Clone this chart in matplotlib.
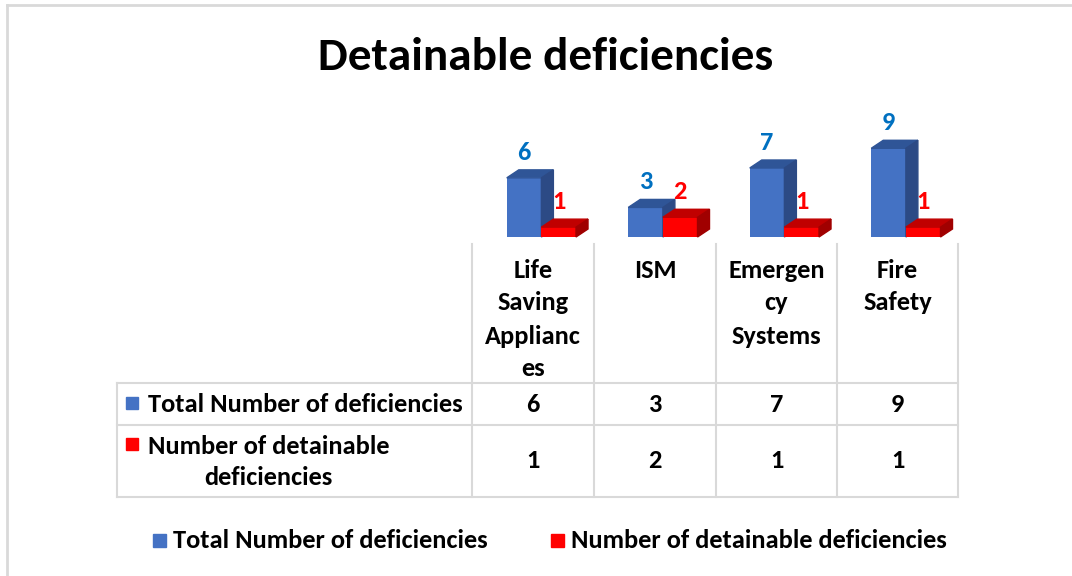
import matplotlib
matplotlib.use("Agg")
import matplotlib.pyplot as plt
from matplotlib import font_manager
from matplotlib.patches import Polygon, Rectangle
from matplotlib.lines import Line2D

categories = ["Life\nSaving\nApplianc\nes", "ISM", "Emergen\ncy\nSystems", "Fire\nSafety"]
series_names = ["Total Number of deficiencies", "Number of detainable deficiencies"]
row_labels = ["Total Number of deficiencies", "Number of detainable\ndeficiencies"]
total = [6, 3, 7, 9]
detainable = [1, 2, 1, 1]

W, H = 1072, 576
installed = {f.name for f in font_manager.fontManager.ttflist}
fam = next((f for f in ["Carlito", "Liberation Sans Narrow", "Open Sans"] if f in installed), "DejaVu Sans")
plt.rcParams["font.family"] = [fam, "DejaVu Sans"]
plt.rcParams["font.weight"] = "bold"
FS = 19


def fx(x):
    return x / W


def fy(y):
    return 1 - y / H


fig = plt.figure(figsize=(W / 100, H / 100), dpi=100)
fig.patch.set_facecolor("white")

# outer frame (only left/top visible)
grid_c = "#D9D9D9"
fig.add_artist(Line2D([fx(7), fx(7)], [fy(5), fy(576)], color=grid_c, lw=2))
fig.add_artist(Line2D([fx(7), fx(1072)], [fy(5), fy(5)], color=grid_c, lw=2))

fig.text(fx(546), fy(57), "Detainable deficiencies", ha="center", va="center",
         fontsize=34, fontweight="bold", color="black")

# bar area
ax = fig.add_axes([fx(472), fy(237), fx(958) - fx(472), (237 - 99) / H])
ax.set_xlim(-0.5, 3.5)
ax.set_ylim(0, 14)
ax.axis("off")

depth_dx = 12 / 121.5
depth_dy = 8 / 9.857
bw = 0.285
styles = [
    ("#4472C4", "#2F5597", "#2C4A85", "#0070C0", -0.214),
    ("#FF0000", "#C00000", "#A00000", "#FF0000", -0.214 + bw),
]
for vals, (front, top, side, lab, off) in zip([total, detainable], styles):
    xs = [i + off for i in range(len(vals))]
    ax.bar(xs, vals, width=bw, align="edge", color=front, zorder=2, clip_on=False)
    for x0, v in zip(xs, vals):
        x1 = x0 + bw
        ax.add_patch(Polygon([(x0, v), (x1, v), (x1 + depth_dx, v + depth_dy), (x0 + depth_dx, v + depth_dy)],
                             closed=True, color=top, zorder=2, clip_on=False))
        ax.add_patch(Polygon([(x1, 0), (x1 + depth_dx, depth_dy), (x1 + depth_dx, v + depth_dy), (x1, v)],
                             closed=True, color=side, zorder=2, clip_on=False))
        ax.annotate(str(v), (x0 + bw / 2, v), xytext=(0, 18.5), textcoords="offset points",
                    ha="center", va="center", fontsize=FS, fontweight="bold", color=lab)

# data table
col_x = [472, 594, 716, 837, 958]
for x in col_x:
    fig.add_artist(Line2D([fx(x), fx(x)], [fy(244), fy(497)], color=grid_c, lw=1.5))
fig.add_artist(Line2D([fx(117), fx(117)], [fy(383), fy(497)], color=grid_c, lw=1.5))
for y in [383, 425, 497]:
    fig.add_artist(Line2D([fx(117), fx(958)], [fy(y), fy(y)], color=grid_c, lw=1.5))

for i, cat in enumerate(categories):
    cx = (col_x[i] + col_x[i + 1]) / 2
    for k, line in enumerate(cat.split("\n")):
        fig.text(fx(cx), fy(270 + 33 * k), line, ha="center", va="center",
                 fontsize=FS, fontweight="bold")
    fig.text(fx(cx), fy(404), str(total[i]), ha="center", va="center", fontsize=FS, fontweight="bold")
    fig.text(fx(cx), fy(461), str(detainable[i]), ha="center", va="center", fontsize=FS, fontweight="bold")

key_cols = ["#4472C4", "#FF0000"]
fig.add_artist(Rectangle((fx(126), fy(409)), 12 / W, 12 / H, color=key_cols[0]))
fig.text(fx(148), fy(404), row_labels[0], ha="left", va="center", fontsize=FS, fontweight="bold")
fig.add_artist(Rectangle((fx(126), fy(450)), 12 / W, 12 / H, color=key_cols[1]))
fig.text(fx(148), fy(462), row_labels[1], ha="left", va="center", fontsize=FS,
         fontweight="bold", multialignment="center", linespacing=1.42)

# legend
fig.add_artist(Rectangle((fx(153), fy(547)), 13 / W, 13 / H, color=key_cols[0]))
fig.text(fx(173), fy(541), series_names[0], ha="left", va="center", fontsize=FS, fontweight="bold")
fig.add_artist(Rectangle((fx(551), fy(547)), 13 / W, 13 / H, color=key_cols[1]))
fig.text(fx(571), fy(541), series_names[1], ha="left", va="center", fontsize=FS, fontweight="bold")

fig.savefig("out.png", dpi=100)
